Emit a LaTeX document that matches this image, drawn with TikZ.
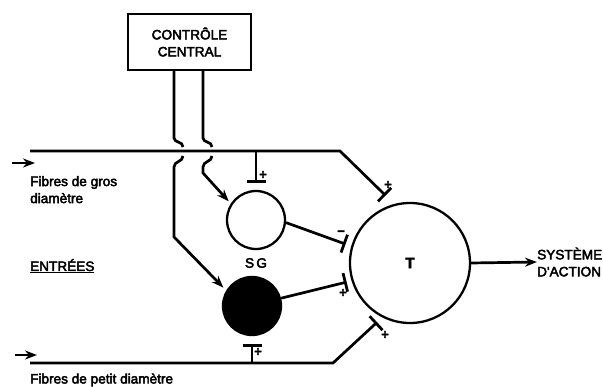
\documentclass[tikz,border=0pt]{standalone}
\usepackage{fontspec}
\newfontfamily\lblfont{Liberation Sans}[FakeBold=3.2]
\usetikzlibrary{arrows.meta}
\begin{document}
\begin{tikzpicture}[x=1pt,y=-1pt,
  ln/.style={line width=2.7pt},
  cell/.style={circle,draw,line width=2.3pt,minimum size=58pt,inner sep=0pt},
  inh/.style={ln,-{Bar[width=19pt,line width=2.8pt]}},
  exc/.style={ln,-{Stealth[length=12pt,width=9pt]}},
  lbl/.style={font=\lblfont\fontsize{13.6}{17}\selectfont,inner sep=0pt},
  sgn/.style={font=\lblfont\bfseries\fontsize{13}{13}\selectfont,inner sep=0pt}]
\useasboundingbox (0,0) rectangle (603,387);
% nodes
\node[draw,line width=2.3pt,minimum width=123pt,minimum height=56pt,align=center,lbl] (box) at (189.5,42) {CONTRÔLE\\CENTRAL};
\node[cell] (SG) at (256,220) {};
\node[cell,fill=black] (SGb) at (252,306) {};
\node[cell,minimum size=120pt,font=\lblfont\bfseries\fontsize{15}{15}\selectfont] (T) at (410,263) {T};
\node[lbl,anchor=west,align=left] (out) at (537,262) {SYSTÈME\\D'ACTION};
% coordinates
\coordinate (g0) at (30,151);
\coordinate (g1) at (340,151);
\coordinate (p0) at (30,363);
\coordinate (p1) at (333,363);
\coordinate (h1) at (174,138);
\coordinate (h2) at (203,138);
\coordinate (ga) at (12,163);
\coordinate (gb) at (35,163);
\coordinate (pa) at (15,355);
\coordinate (pb) at (37,355);
% fibres
\draw[inh,shorten >=12pt] (g0) -- (g1) -- (T.105);
\draw[inh,shorten >=7pt] (p0) -- (p1) -- (T.243);
\draw[inh,shorten >=6pt] (SG.-5) -- (T.164);
\draw[inh,shorten >=5pt] (SGb.15) -- (T.197);
\draw[inh,shorten >=7pt] (SG.north |- g0) -- (SG.north);
\draw[inh,shorten >=8pt] (SGb.south |- p0) -- (SGb.south);
\draw[exc] (T.east) -- (out.west);
\draw[exc] (ga) -- (gb);
\draw[exc] (pa) -- (pb);
% central control
\draw[ln] (box.south -| h1) -- (h1) .. controls (174,143) and (183,141) .. (183,147);
\draw[exc,shorten >=4pt] (183,156) .. controls (183,162) and (174,161) .. (174,167) -- (174,237) -- (SGb.149);
\draw[ln] (box.south -| h2) -- (h2) .. controls (203,143) and (212,141) .. (212,147);
\draw[exc,shorten >=3pt] (212,156) .. controls (212,162) and (203,161) .. (203,167) -- (203,173) -- (SG.147);
% labels
\node[lbl,anchor=north west,align=left] (lg) at (30,176) {Fibres de gros\\diamètre};
\node[lbl,anchor=base west] (le) at (30,271) {\underline{ENTRÉES}};
\node[lbl,anchor=base west] (lp) at (30,383.5) {Fibres de petit diamètre};
\node[lbl] (lsg) at (256,263) {S\,G};
\node[sgn] (s1) at (263,175) {+};
\node[sgn] (s2) at (388,185) {+};
\node[sgn] (s3) at (341,233) {−};
\node[sgn] (s4) at (343,293) {+};
\node[sgn] (s5) at (385,335) {+};
\node[sgn] (s6) at (258,352) {+};
\end{tikzpicture}
\end{document}
